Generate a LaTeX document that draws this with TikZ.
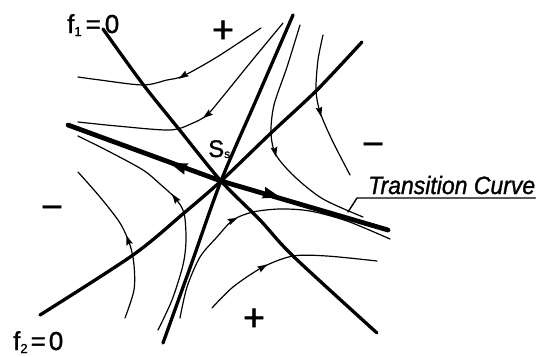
\documentclass[tikz,border=0pt]{standalone}
\usepackage{fontspec}
\setmainfont{Liberation Sans}
\newfontfamily\heavy{Liberation Sans}[FakeBold=1.2]
\usetikzlibrary{arrows.meta}
\begin{document}
\begin{tikzpicture}[x=1pt,y=-1pt,
  thinc/.style={line width=1.2pt, line cap=round, line join=round},
  axisline/.style={line width=3.3pt, line cap=round, line join=round},
  trans/.style={line width=4.8pt, line cap=round, line join=round},
  ahead/.pic={\fill (5pt,0pt) -- (-5pt,3.4pt) -- (-3.5pt,0pt) -- (-5pt,-3.4pt) -- cycle;},
  bhead/.pic={\fill (9pt,0pt) -- (-9pt,6pt) -- (-7pt,0pt) -- (-9pt,-6pt) -- cycle;},
  lbl/.style={inner sep=0pt, font=\heavy\fontsize{26}{26}\selectfont},
  sign/.style={inner sep=0pt, font=\heavy\fontsize{38}{38}\selectfont}]
\useasboundingbox (0,0) rectangle (545,356);

% isoclines and separatrix
\draw[axisline] plot[smooth] coordinates {(103,29) (142,83) (178,128) (221,181) (260,220) (293,256) (377,333)};
\draw[axisline] plot[smooth] coordinates {(40,315) (133,255) (184,213) (221,181) (271,133) (317,90) (362,42)};
\draw[axisline] plot[smooth] coordinates {(293,15) (257,98) (221,181) (191,265) (163,343)};

% transition curve (thick)
\coordinate (S) at (221,181);
\coordinate (tl) at (68,125);
\coordinate (tr) at (388,230);
\draw[trans] (tl) -- (S) -- (tr);
\pic[rotate=160] at (178,166) {bhead};
\pic[rotate=-16] at (272,195) {bhead};

% trajectories
\draw[thinc] plot[smooth] coordinates {(78,77) (100,80) (143,85) (167,80) (183,76) (217,57) (261,28)};
\pic[rotate=213] at (183,76) {ahead};

\draw[thinc] plot[smooth] coordinates {(78,122) (117,126) (170,130) (193,123) (207,115) (220,100) (250,63) (283,23)};
\pic[rotate=217] at (207,115) {ahead};

\draw[thinc] plot[smooth] coordinates {(78,136) (110,152) (143,170) (160,184) (175,198) (184,213) (186,240) (183,265) (172,300) (158,330)};
\pic[rotate=125] at (175,198) {ahead};

\draw[thinc] plot[smooth] coordinates {(78,172) (100,197) (120,223) (130,245) (134,265) (134,290) (125,318)};
\pic[rotate=110] at (128,240) {ahead};

\draw[thinc] plot[smooth] coordinates {(180,318) (187,287) (200,257) (217,237) (233,220) (253,212) (280,209) (310,211) (347,221) (390,239)};
\pic[rotate=25] at (233,220) {ahead};

\draw[thinc] plot[smooth] coordinates {(212,308) (233,287) (263,267) (293,256) (327,256) (377,261)};
\pic[rotate=31] at (263,267) {ahead};

\draw[thinc] plot[smooth] coordinates {(300,25) (287,67) (274,105) (271,133) (276,155) (295,177) (323,199) (363,217)};
\pic[rotate=-78] at (275,152) {ahead};

\draw[thinc] plot[smooth] coordinates {(323,35) (318,60) (316,90) (320,112) (332,140) (350,175)};
\pic[rotate=-77] at (320,112) {ahead};

% labels
\node[lbl, anchor=base west] (f1lab) at (67,33) {f\raisebox{-3pt}{\fontsize{13}{13}\selectfont 1}\hspace{4pt}=\hspace{4pt}0};
\node[lbl, anchor=base west] (f2lab) at (13,350) {f\raisebox{-3pt}{\fontsize{13}{13}\selectfont 2}\hspace{3pt}=\hspace{3pt}0};
\node[inner sep=0pt, anchor=base west, font=\heavy\fontsize{24}{24}\selectfont] (ss) at (208,157) {S\raisebox{-1pt}{\fontsize{12}{12}\selectfont s}};

\node[inner sep=0pt, anchor=base west, font=\heavy\fontsize{25}{25}\selectfont\itshape] (tc) at (368,194) {\scalebox{0.92}[1]{Transition Curve}};
\coordinate (ul) at (357,198);
\coordinate (lead) at (348,212);
\draw[thinc, line width=1.4pt] (lead) -- (ul) -- (ul -| tc.east);

\node[sign, anchor=base] (p1) at (223,42.5) {+};
\node[sign, anchor=base] (p2) at (254,330.5) {+};
\node[sign, anchor=base] (m1) at (52,219.5) {−};
\node[sign, anchor=base] (m2) at (373,156.5) {−};
\end{tikzpicture}
\end{document}
